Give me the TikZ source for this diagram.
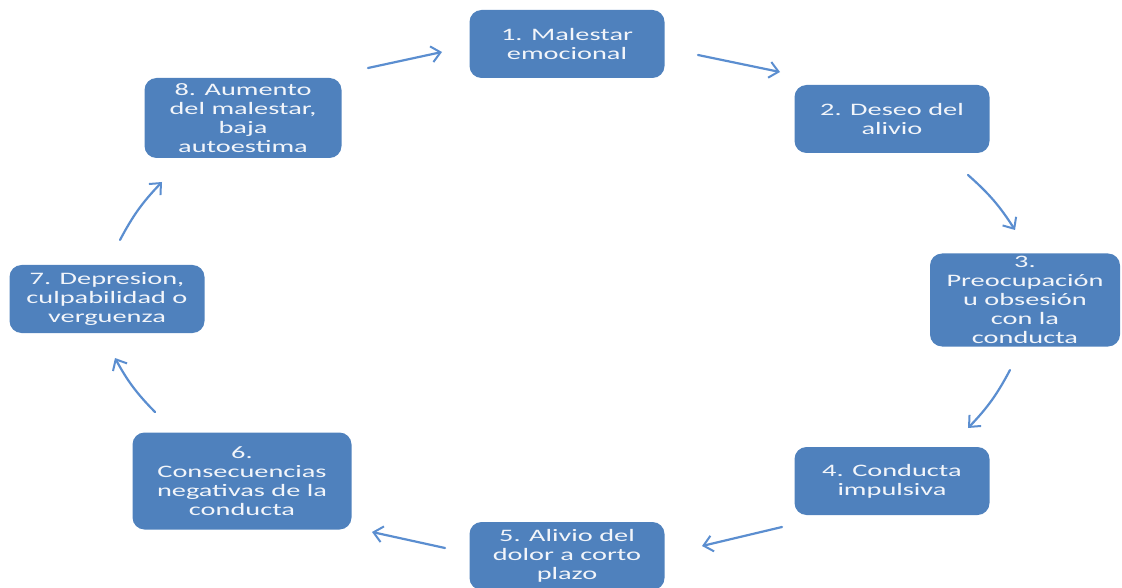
\documentclass[tikz,border=0pt]{standalone}
\usepackage{fontspec}
\setmainfont{Carlito}
\newfontfamily\wide[FakeStretch=1.62]{Carlito}
\usetikzlibrary{arrows.meta}
\definecolor{boxblue}{HTML}{4F81BD}
\definecolor{arrblue}{HTML}{5B8ED0}
\definecolor{boxtext}{HTML}{F2F5FA}
\tikzset{
  box/.style={draw=none, fill=boxblue, rounded corners=12pt, text=boxtext,
    align=center, font=\wide\fontsize{17.5}{19}\selectfont, inner sep=0pt},
  conn/.style={draw=arrblue, line width=2.2pt, line cap=round,
    -{Straight Barb[length=9pt,width=16pt,line width=2pt]}},
}
\begin{document}
\begin{tikzpicture}[x=1pt,y=-1pt]
\useasboundingbox (0,0) rectangle (1122,588);
\node[box, minimum width=195pt, minimum height=68pt] (n1) at (567,44) {1. Malestar\\emocional};
\node[box, minimum width=195pt, minimum height=68pt] (n2) at (892,119) {2. Deseo del\\alivio};
\node[box, minimum width=190pt, minimum height=93pt] (n3) at (1025,300) {3.\\Preocupación\\u obsesión\\con la\\conducta};
\node[box, minimum width=195pt, minimum height=68pt] (n4) at (892,481) {4. Conducta\\impulsiva};
\node[box, minimum width=195pt, minimum height=68pt] (n5) at (567,556) {5. Alivio del\\dolor a corto\\plazo};
\node[box, minimum width=219pt, minimum height=97pt] (n6) at (242,481) {6.\\Consecuencias\\negativas de la\\conducta};
\node[box, minimum width=195pt, minimum height=68pt] (n7) at (107,299) {7. Depresion,\\culpabilidad o\\verguenza};
\node[box, minimum width=197pt, minimum height=80pt] (n8) at (243,118) {8. Aumento\\del malestar,\\baja\\autoestima};
\coordinate (a1s) at (698,55); \coordinate (a1e) at (780,72);
\coordinate (a2s) at (968,175); \coordinate (a2e) at (1015,230);
\coordinate (a3s) at (1010,370); \coordinate (a3e) at (968,428);
\coordinate (a4s) at (782,527); \coordinate (a4e) at (702,546);
\coordinate (a5s) at (445,548); \coordinate (a5e) at (372,532);
\coordinate (a6s) at (155,412); \coordinate (a6e) at (115,358);
\coordinate (a7s) at (120,240); \coordinate (a7e) at (162,182);
\coordinate (a8s) at (368,68); \coordinate (a8e) at (442,52);
\draw[conn] (a1s) -- (a1e);
\draw[conn] (a2s) to[bend left=8] (a2e);
\draw[conn] (a3s) to[bend left=8] (a3e);
\draw[conn] (a4s) -- (a4e);
\draw[conn] (a5s) -- (a5e);
\draw[conn] (a6s) to[bend left=8] (a6e);
\draw[conn] (a7s) to[bend left=8] (a7e);
\draw[conn] (a8s) -- (a8e);
\end{tikzpicture}
\end{document}
